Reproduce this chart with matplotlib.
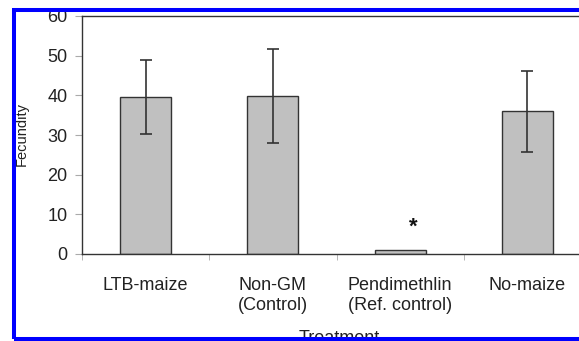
import matplotlib
matplotlib.use("Agg")
import matplotlib.pyplot as plt
import matplotlib.ticker as ticker
from matplotlib.patches import Rectangle

plt.rcParams["font.family"] = ["Liberation Sans", "DejaVu Sans"]

# data
treatments = ["LTB-maize", "Non-GM\n(Control)", "Pendimethlin\n(Ref. control)", "No-maize"]
fecundity = [39.5, 39.8, 1.0, 36.0]
fecundity_err = [9.3, 11.9, 0.0, 10.2]
significant = [False, False, True, False]

W, H = 579, 341
fig = plt.figure(figsize=(W / 100, H / 100), dpi=100)
fig.patch.set_facecolor("white")

# plot area: left edge at 82px, top 16px, bottom 254px, right runs off the image
ax = fig.add_axes([82 / W, (H - 254) / H, (591 - 82) / W, (254 - 16) / H])

x = list(range(len(treatments)))
ax.bar(x, fecundity, width=0.4, color="#c0c0c0", edgecolor="#333333",
       linewidth=1.0, zorder=2)

# only draw error bars where there is one
ex = [i for i in x if fecundity_err[i] > 0]
ax.errorbar(ex, [fecundity[i] for i in ex], yerr=[fecundity_err[i] for i in ex],
            fmt="none", ecolor="#333333", elinewidth=1.2, capsize=4,
            capthick=1.2, zorder=3)

for i in x:
    if significant[i]:
        ax.text(i + 0.1, fecundity[i] + 4.3, "*", fontsize=16, fontweight="bold",
                ha="center", va="baseline", color="#111111")

ax.set_xlim(-0.5, len(treatments) - 0.5)
ax.set_ylim(0, 60)
ax.yaxis.set_major_locator(ticker.MultipleLocator(10))

ax.set_xticks(x)
ax.set_xticklabels(treatments, fontsize=13, linespacing=1.2, color="#222222")
ax.xaxis.set_minor_locator(ticker.FixedLocator([i - 0.5 for i in range(len(treatments) + 1)]))
ax.tick_params(axis="x", which="major", length=0, pad=16.5)
ax.tick_params(axis="x", which="minor", length=4, color="#aaaaaa", direction="out")
ax.tick_params(axis="y", length=5, color="#aaaaaa", direction="out", pad=5.5,
               labelsize=13, labelcolor="#222222")

for side in ["left", "bottom", "top", "right"]:
    ax.spines[side].set_color("#333333")
    ax.spines[side].set_linewidth(1.0)

fig.text(22 / W, 1 - 134 / H, "Fecundity", rotation=90, ha="center", va="center",
         fontsize=10.5, color="#222222")
fig.text(339 / W, 1 - 330 / H, "Treatment", ha="center", va="top",
         fontsize=13, color="#222222")

# blue frame around the (cropped) figure
frame = Rectangle((14 / W, (H - 338.5) / H), (620 - 14) / W, (338.5 - 10) / H,
                  transform=fig.transFigure, fill=False, edgecolor="#0000ff",
                  linewidth=2.9, zorder=10, clip_on=False)
fig.add_artist(frame)

fig.savefig("out.png", dpi=100)
